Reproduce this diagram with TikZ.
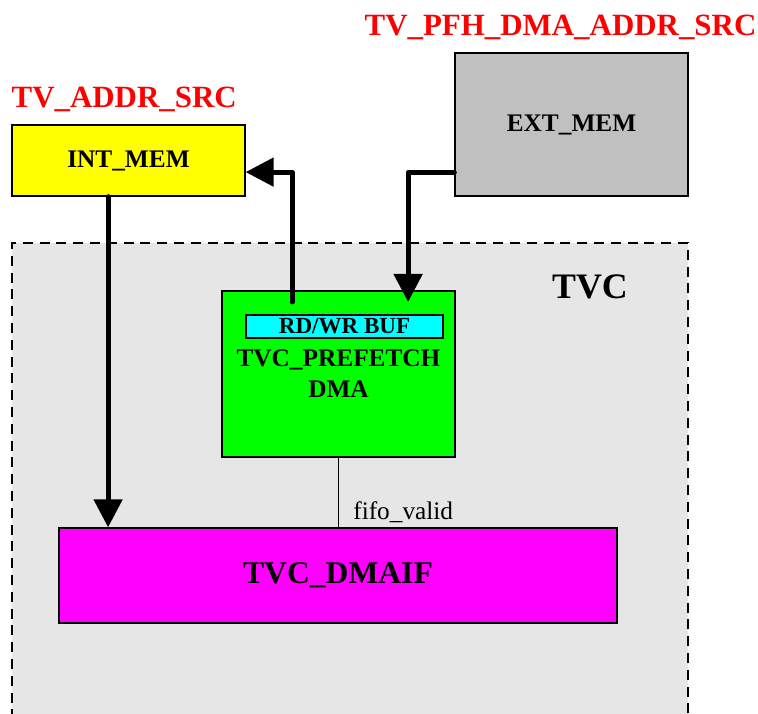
\documentclass[tikz,border=0pt]{standalone}
\usepackage{fontspec}
\setmainfont{Liberation Serif}
\usetikzlibrary{arrows.meta,positioning}
\definecolor{memInt}{HTML}{FFFF00}
\definecolor{memExt}{HTML}{C0C0C0}
\definecolor{blkPf}{HTML}{00FF00}
\definecolor{blkBuf}{HTML}{00FFFF}
\definecolor{blkIf}{HTML}{FF00FF}
\definecolor{tvcbg}{HTML}{E6E6E6}
\definecolor{srcred}{HTML}{FF0000}
\begin{document}
\begin{tikzpicture}[
blk/.style={draw=black,fill=#1,line width=.9pt,inner sep=0pt,align=center,font=\bfseries\fontsize{18}{22}\selectfont},
src/.style={text=srcred,inner sep=0pt,font=\bfseries\fontsize{22}{24}\selectfont},
bus/.style={-{Triangle[length=7mm,width=7mm]},line width=3.5pt,line cap=round,line join=round}]
\useasboundingbox (0,0) rectangle (18.95,17.825);
\node[draw=black,dash pattern=on 2.5mm off 1.7mm,line width=.9pt,fill=tvcbg,minimum width=16.9cm,minimum height=12.5cm,inner sep=0pt] (tvc) at (8.75,5.5) {};
\node[font=\bfseries\fontsize{25.5}{28}\selectfont] (tvclbl) at (14.75,10.65) {TVC};
\node[blk=memInt,minimum width=5.825cm,minimum height=1.775cm] (intmem) at (3.2125,13.8125) {INT\_MEM};
\node[blk=memExt,minimum width=5.825cm,minimum height=3.575cm] (extmem) at (14.2875,14.7125) {EXT\_MEM};
\node[blk=blkPf,minimum width=5.825cm,minimum height=4.15cm] (pf) at (8.4625,8.475) {TVC\_PREFETCH\\DMA};
\node[blk=blkBuf,minimum width=4.925cm,minimum height=0.575cm,font=\bfseries\fontsize{16.4}{18}\selectfont] (buf) at (8.6125,9.6625) {RD/WR BUF};
\node[blk=blkIf,minimum width=13.95cm,minimum height=2.375cm,font=\bfseries\fontsize{22.5}{26}\selectfont] (dmaif) at (8.45,3.4375) {TVC\_DMAIF};
\node[src,above right=3mm and 0mm of intmem.north west] (addrsrc) {TV\_ADDR\_SRC};
\node[src,above=3mm of extmem.north,xshift=-2.75mm] (pfhsrc) {TV\_PFH\_DMA\_ADDR\_SRC};
\draw[bus] ([xshift=-5.1mm]intmem.south) -- ([xshift=-5.1mm]intmem.south |- dmaif.north);
\draw[bus] ([xshift=-11.6mm,yshift=-2.9mm]pf.north) |- ([yshift=-2.9mm]intmem.east);
\draw[bus] ([yshift=-11.9mm]extmem.west) -| ([xshift=17.4mm,yshift=-2.9mm]pf.north);
\draw[line width=1.2pt] (pf.south) -- (pf.south |- dmaif.north)
 node[anchor=south west,inner sep=0pt,xshift=3.5mm,yshift=1mm,font=\fontsize{18}{20}\selectfont] (fifolbl) {fifo\_valid};
\end{tikzpicture}
\end{document}
